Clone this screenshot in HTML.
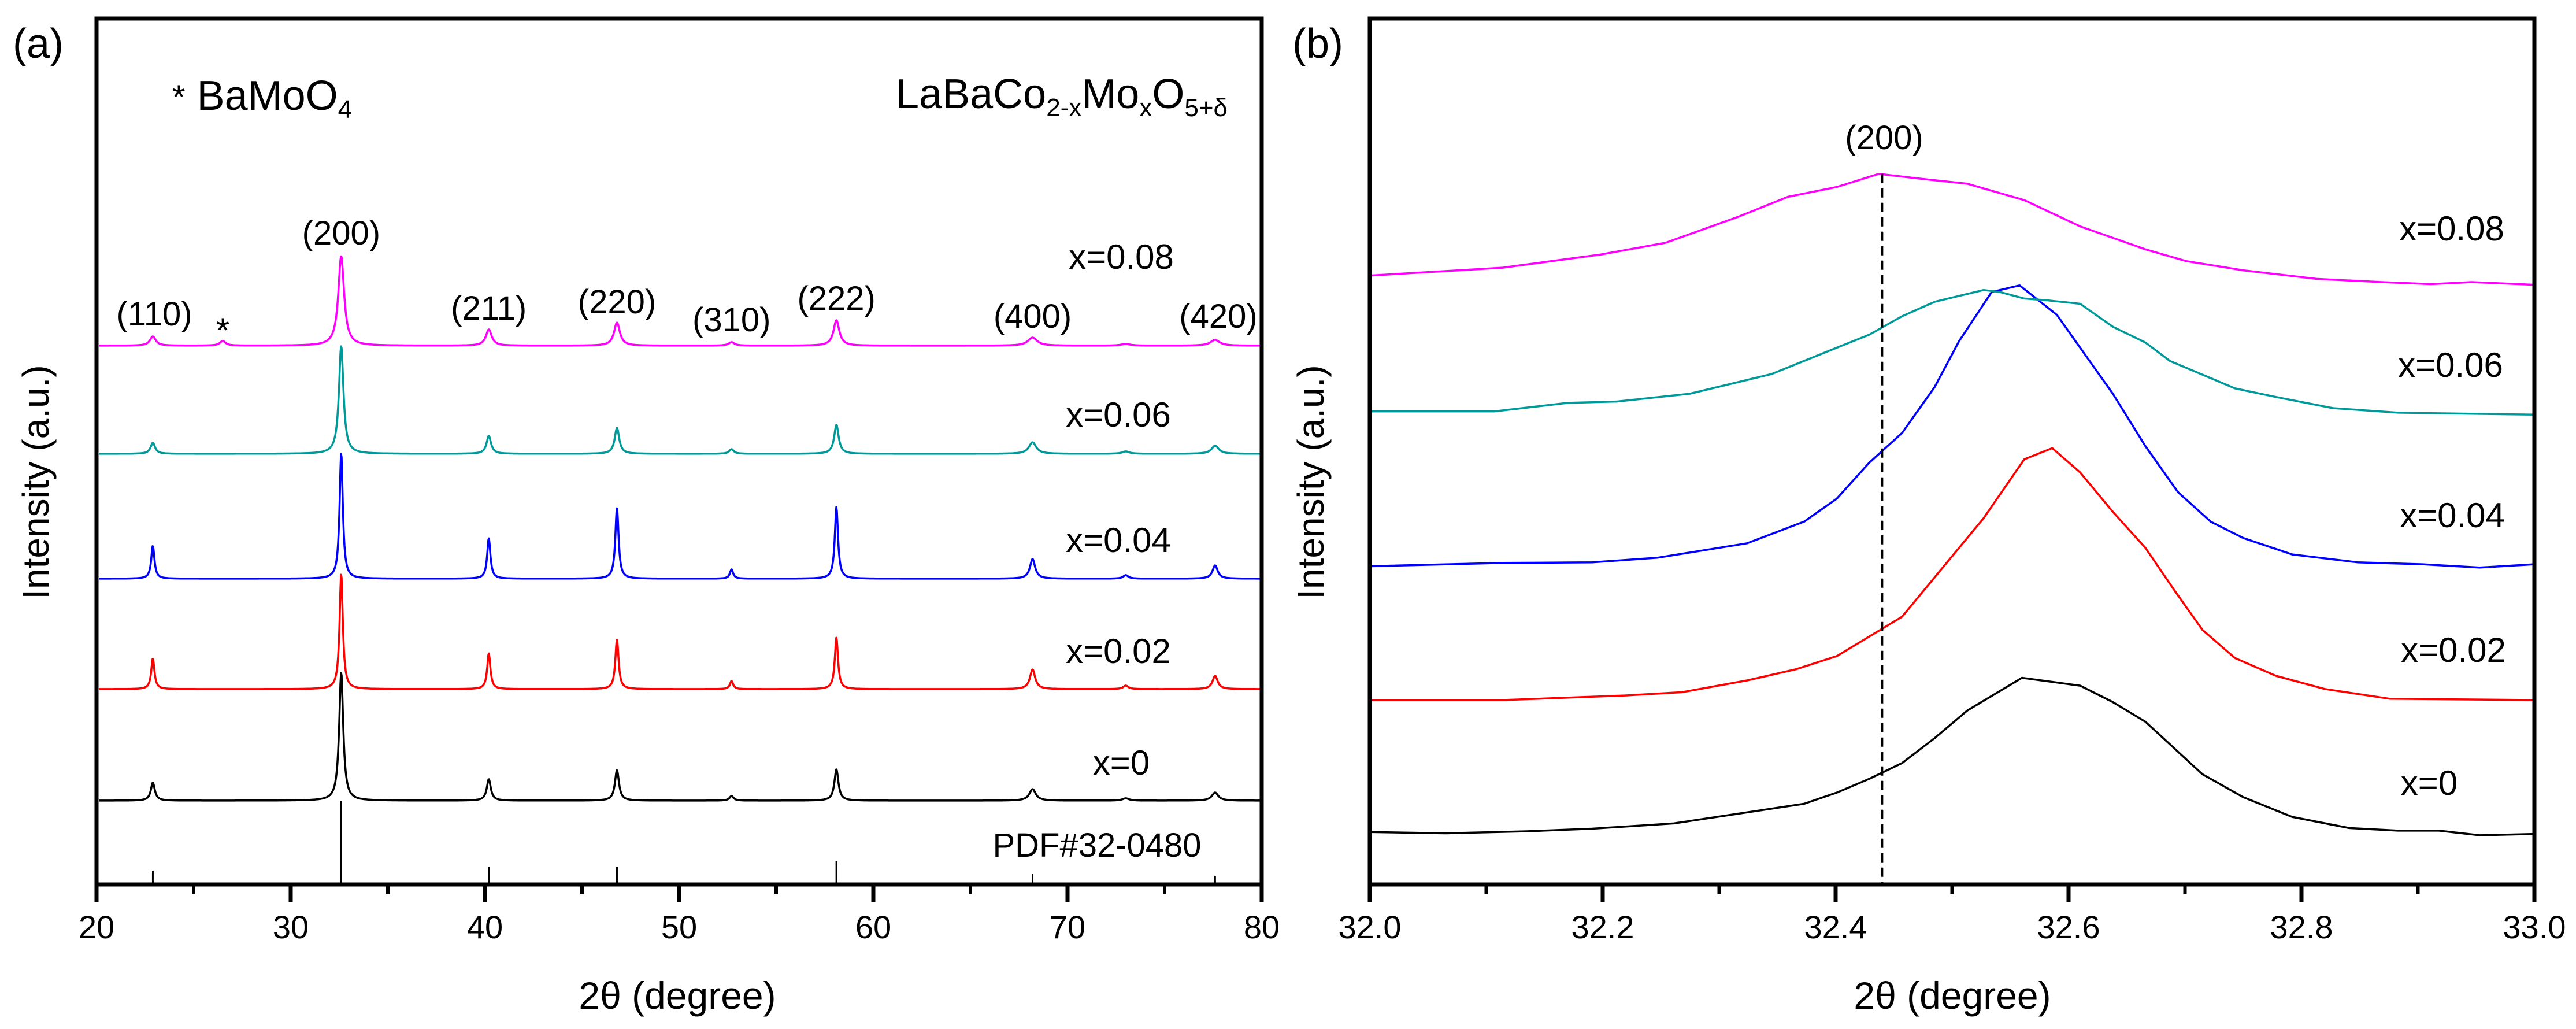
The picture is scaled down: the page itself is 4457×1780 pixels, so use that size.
<!DOCTYPE html>
<html><head><meta charset="utf-8"><style>
html,body{margin:0;padding:0;background:#fff;}
svg{display:block;font-family:"Liberation Sans",Arial,sans-serif;}
</style></head><body>
<svg id="fig" width="4457" height="1780" viewBox="0 0 4457 1780" xmlns="http://www.w3.org/2000/svg">
<rect x="0" y="0" width="4457" height="1780" fill="#fff"/>
<g id="pa"></g>
<g id="pb"></g>
</svg>
<script>
// ---------- Panel (a) data ----------
const aTicks = [20, 30, 40, 50, 60, 70, 80];
const aPeakPos = [22.9, 26.5, 32.6, 40.2, 46.8, 52.7, 58.1, 68.2, 73.0, 77.6];
const aSamples = ["x=0.08", "x=0.06", "x=0.04", "x=0.02", "x=0"];
const aColors = ["#ff00ff", "#009999", "#0000ff", "#ff0000", "#000000"];
const aBaselines = [932, 745, 529, 338, 145];
const aWidths = [0.36, 0.28, 0.2, 0.2, 0.25];
const aHeights08 = [16, 8, 155, 28, 40, 6, 44, 14, 3, 10];
const aHeights06 = [19, 0, 187, 31, 45, 8, 50, 20, 4, 14];
const aHeights04 = [57, 0, 218, 70, 124, 16, 124, 34, 6, 23];
const aHeights02 = [53, 0, 200, 62, 87, 14, 89, 34, 6, 23];
const aHeights00 = [31, 0, 222, 37, 53, 8, 54, 20, 4, 14];
const hklLabels = ["(110)", "(200)", "(211)", "(220)", "(310)", "(222)", "(400)", "(420)"];
const hklPos = [22.9, 32.6, 40.2, 46.8, 52.7, 58.1, 68.2, 77.6];
const pdfPos = [22.9, 32.6, 40.2, 46.8, 58.1, 68.2, 77.6];
const pdfHeights = [24, 145, 30, 30, 40, 18, 15];

// ---------- Panel (b) data ----------
const bTicks = [32.0, 32.2, 32.4, 32.6, 32.8, 33.0];
const bNames = ["x=0.08", "x=0.06", "x=0.04", "x=0.02", "x=0"];
const bColors = ["#ff00ff", "#009999", "#0000ff", "#ff0000", "#000000"];
const bX08 = [32.000,32.114,32.198,32.254,32.317,32.359,32.401,32.437,32.471,32.513,32.562,32.610,32.666,32.701,32.750,32.813,32.869,32.911,32.946,33.000];
const bY08 = [980,992,1012,1030,1070,1100,1115,1135,1128,1120,1095,1055,1020,1002,988,975,970,967,970,966];
const bX06 = [32.000,32.107,32.170,32.212,32.275,32.345,32.401,32.429,32.457,32.485,32.527,32.541,32.562,32.583,32.610,32.638,32.666,32.687,32.743,32.778,32.827,32.883,33.000];
const bY06 = [773,773,786,788,800,830,870,890,918,940,958,955,945,942,937,902,878,850,808,795,778,771,768];
const bX04 = [32.000,32.114,32.191,32.247,32.324,32.373,32.401,32.429,32.457,32.485,32.506,32.534,32.558,32.590,32.610,32.638,32.666,32.694,32.722,32.750,32.792,32.848,32.904,32.953,33.000];
const bY04 = [537,542,543,550,572,605,640,695,740,810,880,955,965,920,870,800,720,650,605,580,555,543,540,535,540];
const bX02 = [32.000,32.114,32.219,32.268,32.324,32.366,32.401,32.429,32.457,32.485,32.527,32.562,32.586,32.610,32.638,32.666,32.691,32.715,32.743,32.778,32.820,32.876,33.000];
const bY02 = [333,333,340,345,363,380,400,430,460,520,610,700,717,680,620,565,500,440,397,370,350,335,333];
const bX00 = [32.000,32.065,32.135,32.191,32.261,32.317,32.373,32.401,32.429,32.457,32.485,32.513,32.560,32.610,32.638,32.666,32.715,32.750,32.792,32.841,32.883,32.918,32.953,33.000];
const bY00 = [132,130,133,137,145,160,175,192,213,237,275,317,367,355,330,300,220,185,155,138,134,134,127,129];
const bMarker = 32.44;

const NS = "http://www.w3.org/2000/svg";
function mk(parent, tag, attrs, text) {
  const e = document.createElementNS(NS, tag);
  for (const k in attrs) e.setAttribute(k, attrs[k]);
  if (text !== undefined) e.textContent = text;
  parent.appendChild(e);
  return e;
}

// ---------- Panel (a) ----------
const pa = document.getElementById("pa");
const A = {l:167, r:2183, t:32, b:1530, x0:20, x1:80};
const xA = v => A.l + (v - A.x0) / (A.x1 - A.x0) * (A.r - A.l);
const yA = c => A.b - c;

const aHeights = [aHeights08, aHeights06, aHeights04, aHeights02, aHeights00];
for (let s = aSamples.length - 1; s >= 0; s--) {
  let d = "";
  for (let px = A.l + 4; px <= A.r - 3; px += 1) {
    const v = A.x0 + (px - A.l) / (A.r - A.l) * (A.x1 - A.x0);
    let c = aBaselines[s];
    for (let k = 0; k < aPeakPos.length; k++) {
      const w = aWidths[s] * (aPeakPos[k] > 60 ? 1.6 : 1);
      const u = (v - aPeakPos[k]) / w;
      c += aHeights[s][k] / (1 + u * u * 4);
    }
    d += (d ? "L" : "M") + px + "," + yA(c).toFixed(1);
  }
  const p = mk(pa, "path", {d: d, fill: "none", stroke: aColors[s], "stroke-width": 3.5, "stroke-linejoin": "round"});
  
  
}
for (let i = 0; i < pdfPos.length; i++) {
  const ln = mk(pa, "line", {x1: xA(pdfPos[i]), x2: xA(pdfPos[i]), y1: A.b, y2: yA(pdfHeights[i]), stroke: "#000", "stroke-width": 3});
  
  
}
const boxA = mk(pa, "rect", {x: A.l, y: A.t, width: A.r - A.l, height: A.b - A.t, fill: "none", stroke: "#000", "stroke-width": 7});


for (let v = 20; v <= 80; v += 5) {
  const maj = v % 10 === 0;
  const t = mk(pa, "line", {x1: xA(v), x2: xA(v), y1: A.b, y2: A.b + (maj ? 30 : 17), stroke: "#000", "stroke-width": maj ? 7 : 6});
  
  
}
for (const v of aTicks) {
  const t = mk(pa, "text", {x: xA(v), y: 1623, "font-size": 56, "text-anchor": "middle"}, String(v));
  
  
}
const labA = [
  ["x=0.08", 1940, 465], ["x=0.06", 1935, 738], ["x=0.04", 1935, 955], ["x=0.02", 1935, 1147], ["x=0", 1940, 1340]
];
labA.forEach(l => {
  const t = mk(pa, "text", {x: l[1], y: l[2], "font-size": 60, "text-anchor": "middle"}, l[0]);
  
  
});
const hklY = [563, 423, 553, 542, 573, 536, 567, 567];
for (let i = 0; i < hklLabels.length; i++) {
  let x = xA(hklPos[i]);
  if (i === 0) x = 267;
  if (i === 7) x = 2108;
  const t = mk(pa, "text", {x: x, y: hklY[i], "font-size": 58, "text-anchor": "middle"}, hklLabels[i]);
  
  
}
const star = mk(pa, "text", {x: xA(26.5), y: 592, "font-size": 60, "text-anchor": "middle"}, "*");


const leg = mk(pa, "text", {x: 298, y: 190, "font-size": 72}, "");


leg.innerHTML = '<tspan font-size="58" dy="-2">*</tspan><tspan dy="2"> BaMoO</tspan><tspan font-size="44" dy="14">4</tspan>';
const form = mk(pa, "text", {x: 1550, y: 187, "font-size": 72}, "");


form.innerHTML = 'LaBaCo<tspan font-size="44" dy="14">2-x</tspan><tspan dy="-14">Mo</tspan><tspan font-size="44" dy="14">x</tspan><tspan dy="-14">O</tspan><tspan font-size="44" dy="14">5+δ</tspan>';
const pdf = mk(pa, "text", {x: 1898, y: 1482, "font-size": 58, "text-anchor": "middle"}, "PDF#32-0480");


const pla = mk(pa, "text", {x: 22, y: 100, "font-size": 72}, "(a)");


const xta = mk(pa, "text", {x: 1172, y: 1745, "font-size": 66, "text-anchor": "middle"}, "2θ (degree)");


const yta = mk(pa, "text", {x: 0, y: 0, "font-size": 64, "text-anchor": "middle", transform: "translate(84,834) rotate(-90)"}, "Intensity (a.u.)");



// ---------- Panel (b) ----------
const pb = document.getElementById("pb");
const B = {l:2370, r:4385, t:32, b:1530, x0:32.0, x1:33.0};
const xB = v => B.l + (v - B.x0) / (B.x1 - B.x0) * (B.r - B.l);
const yB = c => 1589 - 1.135 * c;
const bXs = [bX08, bX06, bX04, bX02, bX00];
const bYs = [bY08, bY06, bY04, bY02, bY00];
for (let s = bNames.length - 1; s >= 0; s--) {
  let d = "";
  for (let i = 0; i < bXs[s].length; i++) d += (i ? "L" : "M") + xB(bXs[s][i]).toFixed(1) + "," + yB(bYs[s][i]).toFixed(1);
  const p = mk(pb, "path", {d: d, fill: "none", stroke: bColors[s], "stroke-width": 3.5, "stroke-linejoin": "round"});
  
  
}
const dash = mk(pb, "line", {x1: xB(bMarker), x2: xB(bMarker), y1: yB(1135), y2: B.b, stroke: "#000", "stroke-width": 3.5, "stroke-dasharray": "16,9"});


const boxB = mk(pb, "rect", {x: B.l, y: B.t, width: B.r - B.l, height: B.b - B.t, fill: "none", stroke: "#000", "stroke-width": 7});


for (let i = 0; i <= 10; i++) {
  const v = 32 + i * 0.1;
  const maj = i % 2 === 0;
  const t = mk(pb, "line", {x1: xB(v), x2: xB(v), y1: B.b, y2: B.b + (maj ? 30 : 17), stroke: "#000", "stroke-width": maj ? 7 : 6});
  
  
}
for (const v of bTicks) {
  const t = mk(pb, "text", {x: xB(v), y: 1623, "font-size": 56, "text-anchor": "middle"}, v.toFixed(1));
  
  
}
const labB = [["x=0.08", 4242, 416], ["x=0.06", 4240, 652], ["x=0.04", 4243, 912], ["x=0.02", 4245, 1145], ["x=0", 4203, 1375]];
labB.forEach(l => {
  const t = mk(pb, "text", {x: l[1], y: l[2], "font-size": 60, "text-anchor": "middle"}, l[0]);
  
  
});
const l200 = mk(pb, "text", {x: 3260, y: 258, "font-size": 58, "text-anchor": "middle"}, "(200)");


const plb = mk(pb, "text", {x: 2236, y: 100, "font-size": 72}, "(b)");


const xtb = mk(pb, "text", {x: 3378, y: 1745, "font-size": 66, "text-anchor": "middle"}, "2θ (degree)");


const ytb = mk(pb, "text", {x: 0, y: 0, "font-size": 64, "text-anchor": "middle", transform: "translate(2290,834) rotate(-90)"}, "Intensity (a.u.)");


</script>
</body></html>
